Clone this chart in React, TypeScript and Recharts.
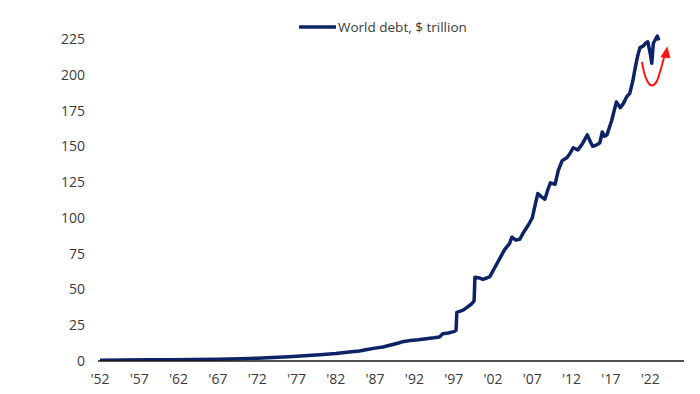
import { Line, LineChart, XAxis, YAxis } from "recharts";

const NAVY = "#0c2466";
const RED = "#ff1414";
const TEXT = "#3a3a3a";
const FONT = "'Open Sans', sans-serif";

// year (decimal) and world debt, $ trillion
const YEARS = [
  1952, 1955, 1958, 1961, 1964, 1967, 1970, 1972, 1974, 1976, 1978, 1980, 1982, 1984,
  1985, 1986, 1987, 1988, 1989, 1990, 1990.5, 1991.5, 1992.5, 1993.5, 1994.5, 1995.2,
  1995.6, 1996.3, 1997, 1997.3, 1997.4, 1998.2, 1998.7, 1999.3, 1999.6, 1999.7, 2000.3,
  2000.7, 2001.2, 2001.6, 2002.2, 2002.8, 2003.5, 2004.1, 2004.4, 2004.9, 2005.4, 2005.9,
  2006.5, 2007, 2007.4, 2007.7, 2008.1, 2008.6, 2009, 2009.3, 2009.9, 2010.3, 2010.8,
  2011.4, 2011.8, 2012.2, 2012.8, 2013.4, 2014, 2014.4, 2014.7, 2015.2, 2015.6, 2015.9,
  2016.2, 2016.5, 2017.1, 2017.7, 2018.2, 2018.6, 2019, 2019.4, 2019.8, 2020.1, 2020.4,
  2020.7, 2021.1, 2021.4, 2021.7, 2022.0, 2022.2, 2022.4, 2022.7, 2022.9, 2023.1,
];
const DEBT = [
  0.6, 0.7, 0.8, 0.9, 1.1, 1.3, 1.6, 2.0, 2.5, 3.0, 3.7, 4.4, 5.2, 6.4,
  7.0, 8.0, 9.0, 9.8, 11.2, 12.6, 13.5, 14.3, 14.8, 15.5, 16.2, 16.8,
  19.0, 19.6, 20.5, 21.5, 34, 35.5, 37.5, 40, 42, 58.5, 58,
  57, 58, 59, 65, 71, 78, 82, 86.5, 84.5, 85, 90,
  95, 100, 110, 117, 115, 113, 120, 124.5, 123.5, 133, 140,
  142, 145, 149, 147.5, 152, 158, 153, 150, 151, 152.5, 160,
  157, 158, 168, 181, 177, 180, 184.5, 187, 196, 205, 213,
  219, 220, 222, 223, 215, 208, 222, 225, 227, 224,
];

// red "rebound" annotation
const ARROW_YEARS = [2020.95, 2021.2, 2021.6, 2022.2, 2022.8, 2023.3, 2023.8];
const ARROW_VALUES = [209, 202, 196, 192.5, 195, 203, 213];

const X_TICKS = [1952, 1957, 1962, 1967, 1972, 1977, 1982, 1987, 1992, 1997, 2002, 2007, 2012, 2017, 2022];
const Y_TICKS = [0, 25, 50, 75, 100, 125, 150, 175, 200, 225];

const debtData = YEARS.map((year, i) => ({ year, debt: DEBT[i] }));
const arrowData = ARROW_YEARS.map((year, i) => ({ year, v: ARROW_VALUES[i] }));

const tick = { fill: TEXT, fontSize: 14, fontFamily: FONT };

function ArrowHead(props: any) {
  const { cx, cy, index } = props;
  if (index !== arrowData.length - 1) return <g key={index} />;
  return (
    <polygon
      key={index}
      points={`${cx + 3},${cy - 10} ${cx - 4},${cy + 1} ${cx + 6},${cy + 2}`}
      fill={RED}
    />
  );
}

function LegendBox() {
  return (
    <div
      style={{
        position: "absolute",
        top: 18,
        left: 299,
        display: "flex",
        alignItems: "center",
        fontFamily: FONT,
        fontSize: 13.5,
        color: TEXT,
      }}
    >
      <svg width={37} height={6} style={{ marginRight: 2 }}>
        <line x1={1} y1={3} x2={36} y2={3} stroke={NAVY} strokeWidth={3.5} strokeLinecap="round" />
      </svg>
      <span>World debt, $ trillion</span>
    </div>
  );
}

export default function App() {
  return (
    <div style={{ position: "absolute", left: 0, top: 0, width: 700, height: 394, background: "#fff" }}>
      <LineChart width={700} height={394} margin={{ top: 17.5, right: 16, left: 0, bottom: 3 }}>
        <XAxis
          dataKey="year"
          type="number"
          domain={[1951.75, 2026.3]}
          ticks={X_TICKS}
          tickFormatter={(v) => `'${String(v).slice(2)}`}
          tick={tick}
          tickLine={false}
          tickSize={0}
          tickMargin={13}
          axisLine={{ stroke: "#1a1a1a", strokeWidth: 1.5 }}
          height={30}
          allowDataOverflow
        />
        <YAxis
          type="number"
          domain={[0, 240]}
          ticks={Y_TICKS}
          tick={tick}
          axisLine={false}
          tickLine={false}
          tickSize={0}
          tickMargin={13}
          width={98}
          allowDataOverflow
        />
        <Line
          data={debtData}
          dataKey="debt"
          type="linear"
          stroke={NAVY}
          strokeWidth={3.5}
          strokeLinejoin="round"
          dot={false}
          isAnimationActive={false}
        />
        <Line
          data={arrowData}
          dataKey="v"
          type="monotone"
          stroke={RED}
          strokeWidth={2}
          dot={ArrowHead}
          activeDot={false}
          isAnimationActive={false}
        />
      </LineChart>
      <LegendBox />
    </div>
  );
}
